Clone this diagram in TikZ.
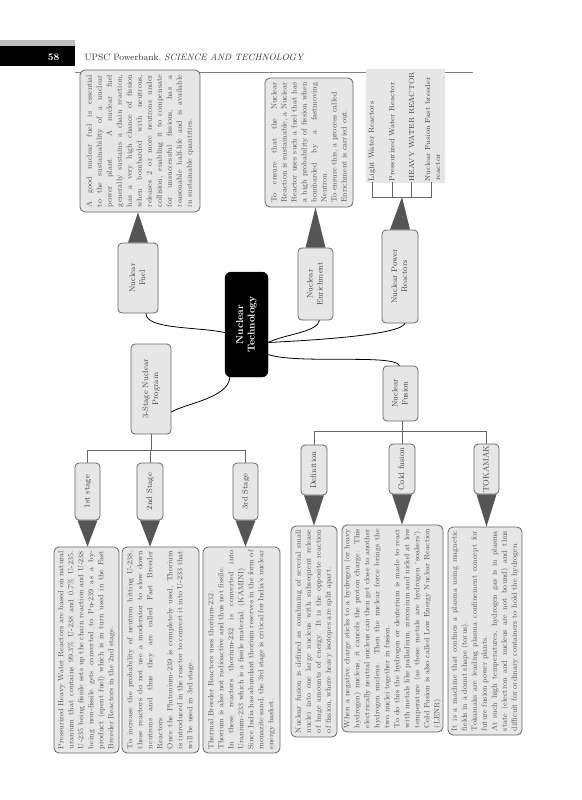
\documentclass[tikz,border=0pt]{standalone}
\usepackage{graphicx}
\usetikzlibrary{calc}
\definecolor{boxfill}{HTML}{E6E6E6}
\definecolor{boxline}{HTML}{666666}
\definecolor{txt}{HTML}{444444}
\definecolor{dtxt}{HTML}{555555}
\definecolor{trifill}{HTML}{555555}
\definecolor{hdrgray}{HTML}{BDBDBD}
\newcommand{\rlabel}[1]{\rotatebox{90}{\begin{tabular}{@{}c@{}}#1\end{tabular}}}
\newcommand{\rpar}[2]{\rotatebox{90}{\parbox{#1pt}{\tolerance=10000\hyphenpenalty=10000\pretolerance=-1 #2}}}
\newcommand{\tridown}[2]{\fill[trifill] ($(#1.south)+(-10,0)$) -- ($(#1.south)+(10,0)$) -- (#1.south |- #2.north) -- cycle;}
\newcommand{\triup}[2]{\fill[trifill] ($(#1.north)+(-10,0)$) -- ($(#1.north)+(10,0)$) -- (#1.north |- #2.south) -- cycle;}
\tikzset{
  nbox/.style={draw=boxline, fill=boxfill, rounded corners=4pt, line width=0.8pt, inner sep=0pt, text=txt, font=\fontsize{8.1}{10}\selectfont},
  dbox/.style={draw=boxline, fill=boxfill, rounded corners=5pt, line width=0.8pt, inner sep=0pt, text=dtxt, font=\fontsize{7.6}{10}\selectfont},
  cbox/.style={draw=black, fill=black, rounded corners=6pt, inner sep=0pt, text=white, font=\bfseries\fontsize{10}{11.5}\selectfont},
  leaf/.style={anchor=south, inner sep=0.5pt, text=txt, font=\fontsize{7.4}{10}\selectfont},
  conn/.style={draw=black, line width=0.8pt},
  busline/.style={draw=boxline, line width=0.8pt}
}
\begin{document}
\begin{tikzpicture}[x=1pt,y=1pt]
\useasboundingbox (0,0) rectangle (581,-800);
\fill[white] (0,0) rectangle (581,-800);
% header
\fill[hdrgray] (0,-40) rectangle (75,-46);
\fill[black] (0,-46) rectangle (75,-66);
\node[anchor=base east, text=white, font=\bfseries\fontsize{10}{12}\selectfont] (pg) at (63,-60) {58};
\node[anchor=base west, text=black!80, font=\fontsize{9.2}{11}\selectfont] (ttl) at (81,-60) {UPSC Powerbank, \textit{SCIENCE AND TECHNOLOGY}};
\draw[gray, line width=0.6pt] (75,-72) -- (473,-72);

% central
\node[cbox, minimum width=43, minimum height=105] (ct) at (246.5,-324.5) {\rlabel{Nuclear\\Technology}};

% first-level nodes
\node[nbox, minimum width=40, minimum height=70] (fuel) at (138,-278) {\rlabel{Nuclear\\Fuel}};
\node[nbox, minimum width=40, minimum height=90] (p3) at (151,-389) {\rlabel{3-Stage Nuclear\\Program}};
\node[nbox, minimum width=35, minimum height=72] (enr) at (315.5,-284) {\rlabel{Nuclear\\Enrichment}};
\node[nbox, minimum width=36, minimum height=93] (npr) at (400,-276.5) {\rlabel{Nuclear Power\\Reactors}};
\node[nbox, minimum width=35, minimum height=55] (fus) at (400.5,-393.5) {\rlabel{Nuclear\\Fusion}};

% second-level nodes
\node[nbox, minimum width=25, minimum height=57] (s1) at (87.5,-491.5) {\rlabel{1st stage}};
\node[nbox, minimum width=26, minimum height=57] (s2) at (150,-491.5) {\rlabel{2nd Stage}};
\node[nbox, minimum width=25, minimum height=57] (s3) at (245.5,-491.5) {\rlabel{3rd Stage}};
\node[nbox, minimum width=26, minimum height=50] (def) at (314,-470) {\rlabel{Definition}};
\node[nbox, minimum width=26, minimum height=50] (cold) at (402,-469) {\rlabel{Cold fusion}};
\node[nbox, minimum width=25, minimum height=50] (tok) at (486.5,-469) {\rlabel{TOKAMAK}};

% description boxes
\node[dbox, minimum width=120, minimum height=142] (fueld) at (140,-141) {\rpar{132}{%
A good nuclear fuel is essential\linebreak
to the sustainability of a nuclear\linebreak
power plant. A nuclear fuel\linebreak
generally sustains a chain reaction,\linebreak
has a very high chance of fission\linebreak
when bombarded with neutrons,\linebreak
releases 2 or more neutrons under\linebreak
collision, enabling it to compensate\linebreak
for unsuccessful fissions, has a\linebreak
reasonable half-life and is available\linebreak
in sustainable quantities.}};

\node[dbox, minimum width=88, minimum height=129] (enrd) at (309,-142.5) {\rpar{120}{%
To ensure that the Nuclear\linebreak
Reaction is sustainable, a Nuclear\linebreak
Reactor uses such a fuel that has\linebreak
a high probability of fission when\linebreak
bombarded by a fastmoving\linebreak
Neutron.\\
To ensure this, a process called\\
Enrichment is carried out.}};

\node[dbox, minimum width=65, minimum height=206] (d1) at (86.5,-650) {\rpar{198}{%
Pressurized Heavy Water Reactors are based on natural\linebreak
uranium that contains 99.3\% U-238 and 0.7\% U-235.\linebreak
U-235 being fissile sets up the chain reaction and U-238\linebreak
being non-fissile gets converted to Pu-239 as a by-\linebreak
product (spent fuel) which is in turn used in the Fast\linebreak
Breeder Reactors in the 2nd stage.}};

\node[dbox, minimum width=77, minimum height=206] (d2) at (160.5,-650) {\rpar{198}{%
To increase the probability of neutron hitting U-238,\linebreak
these reactors do not use a moderator to slow down\linebreak
neutrons and thus they are called Fast Breeder\linebreak
Reactors.\\
Once the Plutonium-239 is completely used, Thorium\linebreak
is introduced in the reactor to convert it into U-233 that\linebreak
will be used in 3rd stage.}};

\node[dbox, minimum width=77, minimum height=206] (d3) at (241.5,-650) {\rpar{199}{%
Thermal Breeder Reactors uses thorium-232.\\
Thorium is also not radioactive and thus not fissile.\\
In these reactors thorium-232 is converted into\linebreak
Uranium-233 which is a fissile material. (KAMINI)\\
Since India has abundant thorium reserves in the form of\linebreak
monazite sand, the 3rd stage is critical for India's nuclear\linebreak
energy basket.}};

\node[dbox, minimum width=46, minimum height=211] (defd) at (314,-631.5) {\rpar{203}{%
Nuclear fusion is defined as combining of several small\linebreak
nuclei into one large nucleus with subsequent release\linebreak
of huge amounts of energy. It is the opposite reaction\linebreak
of fission, where heavy isotopes are split apart.}};

\node[dbox, minimum width=101, minimum height=207] (coldd) at (392.5,-628.5) {\rpar{199}{%
When a negative charge sticks to a hydrogen (or heavy\linebreak
hydrogen) nucleus, it cancels the proton charge. This\linebreak
electrically neutral nucleus can then get close to another\linebreak
hydrogen nucleus. Then the nuclear force brings the\linebreak
two nuclei together in fusion.\\
To do this the hydrogen or deuterium is made to react\linebreak
with metals like palladium, zirconium and nickel at low\linebreak
temperature (as these metals are hydrogen `soakers').\linebreak
Cold Fusion is also called Low Energy Nuclear Reaction\linebreak
(LENR)}};

\node[dbox, minimum width=74, minimum height=208] (tokd) at (485,-631) {\rpar{200}{%
It is a machine that confines a plasma using magnetic\linebreak
fields in a donut shape (torus).\\
Tokamaks are leading plasma confinement concept for\linebreak
future fusion power plants.\\
At such high temperatures, hydrogen gas is in plasma\linebreak
state (electron and nucleus are not bound) and thus\linebreak
difficult for ordinary containers to hold the hydrogen.}};

% triangles
\triup{fuel}{fueld}
\triup{enr}{enrd}
\tridown{s1}{d1}
\tridown{s2}{d2}
\tridown{s3}{d3}
\tridown{def}{defd}
\tridown{cold}{coldd}
\tridown{tok}{tokd}

% connectors from central node
\draw[conn] ($(fuel.south)+(8,0)$) .. controls +(0,-16) and +(-30,6) .. ($(ct.west)+(0,-8)$);
\draw[conn] ($(ct.south west)+(5,0)$) .. controls +(-1,-21) and +(12,8) .. ($(p3.east)+(0,-23)$);
\draw[conn] ($(ct.east)+(0,-18)$) .. controls +(15,8) and +(-2,-12) .. ($(enr.south)+(4,0)$);
\draw[conn] ($(ct.east)+(0,-18)$) .. controls +(40,2) and +(-5,-12) .. ($(npr.south)+(5,0)$);
\draw[conn] ($(ct.east)+(0,-30)$) .. controls +(30,-10) and +(-5,12) .. ($(fus.north)+(-1,0)$);

% 3-stage bus
\coordinate (busS) at (0,-450);
\draw[busline] (p3.south) -- (p3.south |- busS);
\draw[busline] (s1.north) -- (s1.north |- busS) -- (s3.north |- busS) -- (s3.north);
\draw[busline] (s2.north) -- (s2.north |- busS);

% fusion bus
\coordinate (busF) at (0,-431);
\draw[busline] ($(fus.south)+(2,0)$) -- ($(fus.south|-busF)+(2,0)$);
\draw[busline] (def.north) -- (def.north |- busF) -- (tok.north |- busF) -- (tok.north);
\draw[busline] (cold.north) -- (cold.north |- busF);

% reactors list
\fill[boxfill] (366,-69) rectangle (445,-183);
\coordinate (busR) at (0,-197);
\node[leaf] (l1) at (372,-182) {\rotatebox{90}{Light Water Reactors}};
\node[leaf] (l2) at (392,-182) {\rotatebox{90}{Pressurized Water Reactor}};
\node[leaf] (l3) at (411.5,-182) {\rotatebox{90}{HEAVY WATER REACTOR}};
\node[leaf] (l4) at (433,-182) {\rotatebox{90}{\begin{tabular}{@{}l@{}}Nuclear Fusion Fast breeder\\\hspace{1pt}reactor\end{tabular}}};
\fill[trifill] ($(npr.north)+(-10,0)$) -- ($(npr.north)+(10,0)$) -- ($(npr.north |- busR)+(2,0)$) -- cycle;
\draw[busline] (l1.south) -- (l1.south |- busR) -- ($(l4.south |- busR)+(-2,0)$) -- ($(l4.south)+(-2,0)$);
\draw[busline] (l2.south) -- (l2.south |- busR);
\draw[busline] (l3.south) -- (l3.south |- busR);
\end{tikzpicture}
\end{document}
